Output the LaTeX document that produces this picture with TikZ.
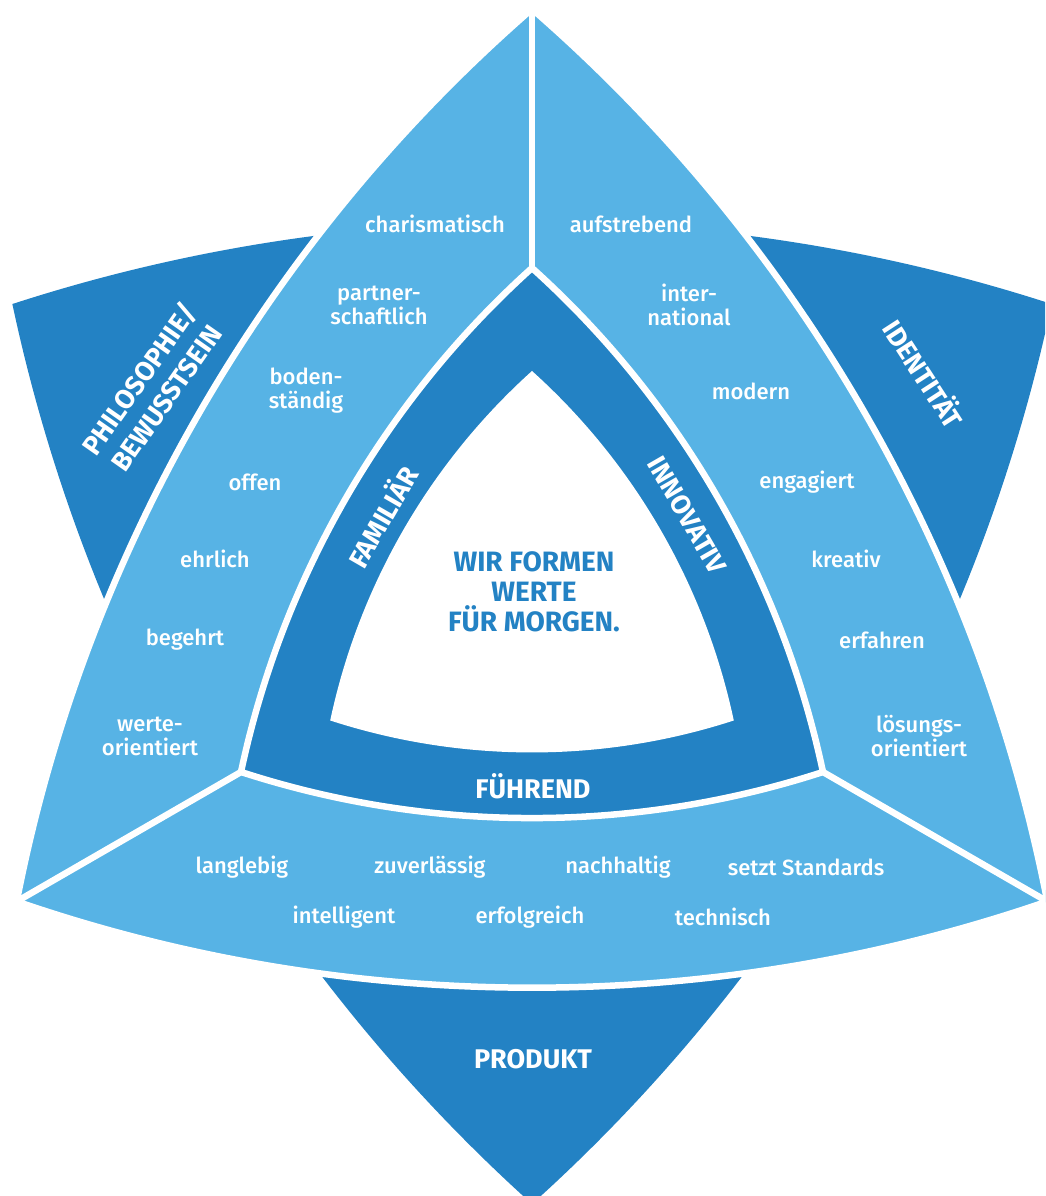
\documentclass[tikz,border=0pt]{standalone}
\usepackage{fontspec}
\setmainfont{Fira Sans}[UprightFont={* Medium}, BoldFont={* Bold}]
\usepackage{xcolor}
\definecolor{lightblue}{RGB}{87,179,229}
\definecolor{darkblue}{RGB}{35,130,196}
\usepackage{tikz}
\newcommand{\radouter}{595}
\newcommand{\radstar}{600}
\newcommand{\radring}{336}
\newcommand{\radinner}{233}
\newcommand{\gapwidth}{6.5pt}
\newcommand{\curvedtriangle}[3]{%
  (90+#3:#1)
  arc[start angle={150+#3-#2}, end angle={150+#3+#2}, radius={#1*0.8660254/sin(#2)}]
  arc[start angle={270+#3-#2}, end angle={270+#3+#2}, radius={#1*0.8660254/sin(#2)}]
  arc[start angle={30+#3-#2}, end angle={30+#3+#2}, radius={#1*0.8660254/sin(#2)}]
  -- cycle}
\tikzset{
    gap/.style={draw=white, line width=\gapwidth},
    word/.style={text=white, font=\fontsize{22}{24}\selectfont, align=center},
    head/.style={text=white, font=\bfseries\fontsize{27}{30}\selectfont, align=center},
    wing/.style={head, font=\bfseries\fontsize{27}{33}\selectfont},
    motto/.style={text=darkblue, font=\bfseries\fontsize{28}{30}\selectfont, align=center}
}

\begin{document}
\begin{tikzpicture}[x=1pt, y=1pt]
              \clip (-532,-592) rectangle (513,604);

              \fill[darkblue] \curvedtriangle{\radstar}{18}{180};
              \path[fill=lightblue, gap] \curvedtriangle{\radouter}{19}{0};
              \path[fill=darkblue, gap] \curvedtriangle{\radring}{18}{0};
              \fill[white] \curvedtriangle{\radinner}{18}{0};

              \foreach \a in {90,210,330} {
                  \coordinate (ring-\a) at (\a:\radring);
                  \coordinate (rim-\a) at (\a:{\radouter+10});
                  \draw[gap] (ring-\a) -- (rim-\a);
              }

              \node[word] (charismatisch) at (-97,380) {charismatisch};
              \node[word] (partnerschaftlich) at (-153,299) {partner-\\schaftlich};
              \node[word] (bodenstaendig) at (-226,213) {boden-\\ständig};
              \node[word] (offen) at (-277,122) {offen};
              \node[word] (ehrlich) at (-317,45) {ehrlich};
              \node[word] (begehrt) at (-347,-36) {begehrt};
              \node[word] (werteorientiert) at (-382,-132) {werte-\\orientiert};

              \node[word] (aufstrebend) at (99,380) {aufstrebend};
              \node[word] (international) at (157,299) {inter-\\national};
              \node[word] (modern) at (219,213) {modern};
              \node[word] (engagiert) at (275,122) {engagiert};
              \node[word] (kreativ) at (314,45) {kreativ};
              \node[word] (erfahren) at (350,-36) {erfahren};
              \node[word] (loesungsorientiert) at (387,-132) {lösungs-\\orientiert};

              \node[word] (langlebig) at (-290,-263) {langlebig};
              \node[word] (zuverlaessig) at (-102,-263) {zuverlässig};
              \node[word] (nachhaltig) at (86,-263) {nachhaltig};
              \node[word] (standards) at (274,-263) {setzt Standards};
              \node[word] (intelligent) at (-188,-313) {intelligent};
              \node[word] (erfolgreich) at (-2,-313) {erfolgreich};
              \node[word] (technisch) at (191,-313) {technisch};

              \node[head, rotate=60] (familiaer) at (-151,88) {FAMILIÄR};
              \node[head, rotate=-60] (innovativ) at (155,89) {INNOVATIV};
              \node[head] (fuehrend) at (1,-182) {FÜHREND};

              \node[wing, rotate=55] (philosophie) at (-380,216) {PHILOSOPHIE/\\BEWUSSTSEIN};
              \node[wing, rotate=-57] (identitaet) at (393,231) {IDENTITÄT};
              \node[wing] (produkt) at (1,-455) {PRODUKT};

              \node[motto] (motto) at (2,12.5) {WIR FORMEN\\WERTE\\FÜR MORGEN.};
\end{tikzpicture}
\end{document}
